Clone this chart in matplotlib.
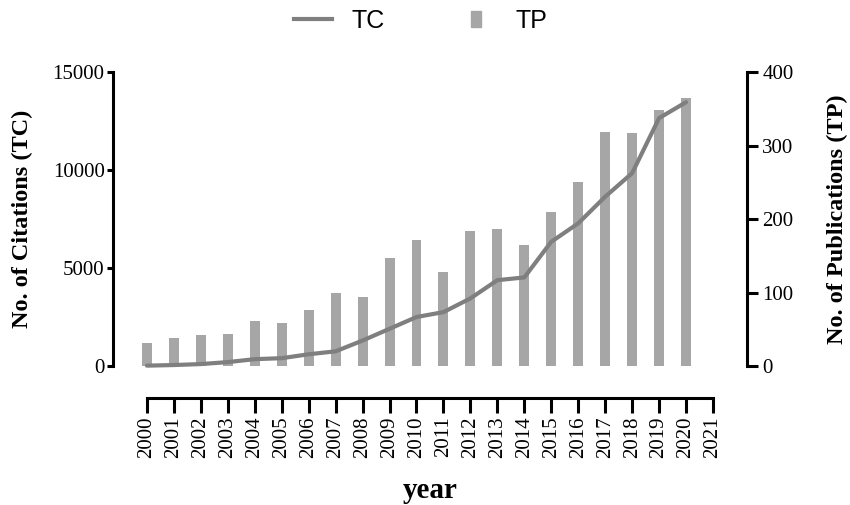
import matplotlib.pyplot as plt
from matplotlib.lines import Line2D
import numpy as np

# citations / publications per year
years = list(range(2000, 2021))
tc = [20, 50, 100, 200, 350, 400, 600, 750, 1300, 1900, 2500, 2750,
      3450, 4380, 4520, 6340, 7280, 8640, 9840, 12650, 13460]
tp = [32, 38, 42, 44, 61, 58, 76, 100, 94, 147, 171, 128,
      184, 186, 164, 210, 250, 318, 317, 348, 364]
xticks = list(range(2000, 2022))

line_col = '#7f7f7f'
bar_col = '#a6a6a6'
serif = 'Liberation Serif'

fig = plt.figure(figsize=(8.5, 5.05), dpi=100)
ax = fig.add_axes([0.1329, 0.2752, 0.7459, 0.5822])
ax2 = ax.twinx()

ax2.bar(years, tp, width=0.37, color=bar_col, zorder=2)
ax.plot(years, tc, color=line_col, lw=3, solid_capstyle='round', zorder=3, clip_on=False)

# line above the bars
ax.set_zorder(ax2.get_zorder() + 1)
ax.patch.set_visible(False)

ax.set_xlim(1998.74, 2022.26)
ax.set_ylim(0, 15000)
ax2.set_ylim(0, 400)

for a in (ax, ax2):
    for s in a.spines.values():
        s.set_visible(False)
        s.set_linewidth(2.2)

ax.spines['left'].set_visible(True)
ax.spines['left'].set_bounds(0, 15000)
ax.spines['bottom'].set_visible(True)
ax.spines['bottom'].set_position(('outward', 23))
ax.spines['bottom'].set_bounds(2000, 2021)
ax2.spines['right'].set_visible(True)
ax2.spines['right'].set_bounds(0, 400)

ax.set_yticks([0, 5000, 10000, 15000])
ax2.set_yticks([0, 100, 200, 300, 400])
ax.set_xticks(xticks)
ax.set_xticklabels([str(y) for y in xticks], rotation=90)

ax.tick_params(axis='y', length=4, width=2.2, pad=2, labelsize=15)
ax.tick_params(axis='x', length=11, width=2.2, pad=2, labelsize=15)
ax2.tick_params(axis='y', length=8, width=2.2, pad=3, labelsize=15)
for lab in ax.get_xticklabels() + ax.get_yticklabels() + ax2.get_yticklabels():
    lab.set_fontfamily(serif)

ax.set_ylabel('No. of Citations (TC)', fontsize=17.5, fontweight='bold',
              family=serif, labelpad=14)
ax2.set_ylabel('No. of Publications (TP)', fontsize=17.5, fontweight='bold',
               family=serif, labelpad=24)
ax.set_xlabel('year', fontsize=21, fontweight='bold', family=serif, labelpad=14)

# narrow bar marker for the legend
bar_marker = [(-0.3, -0.5), (0.3, -0.5), (0.3, 0.5), (-0.3, 0.5), (-0.3, -0.5)]
handles = [
    Line2D([], [], color=line_col, lw=3),
    Line2D([], [], color=bar_col, marker=bar_marker, markersize=12, linestyle='none'),
]
fig.legend(handles, ['TC', 'TP'], loc='upper center', bbox_to_anchor=(0.495, 1.027),
           ncol=2, frameon=False, handlelength=1.5, handletextpad=0.8,
           columnspacing=2.9, prop={'family': 'Liberation Sans', 'size': 18})

fig.savefig('out.png', dpi=100)
